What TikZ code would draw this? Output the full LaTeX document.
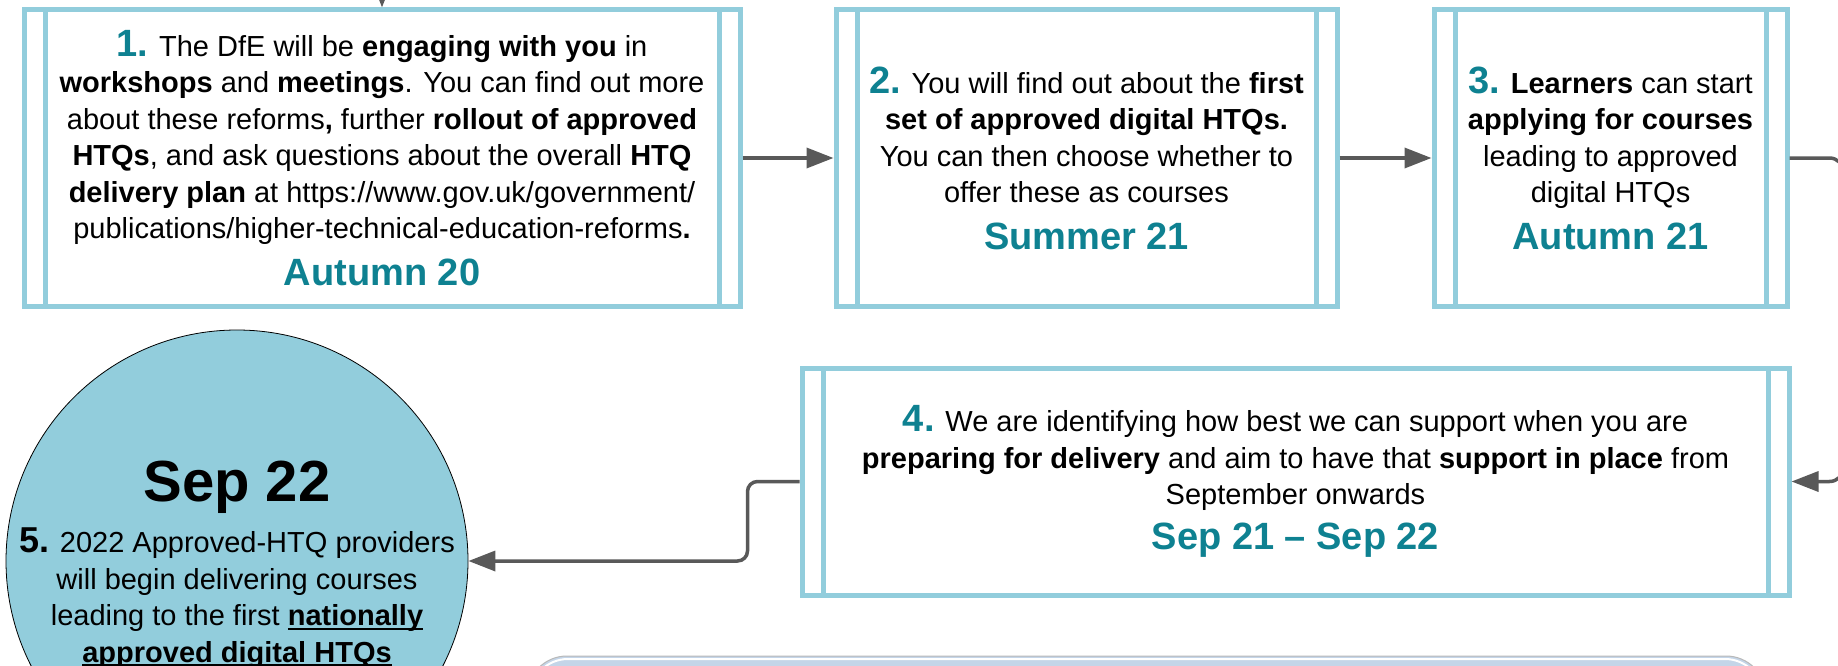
\documentclass[tikz,border=0pt]{standalone}
\usepackage{fontspec}
\setmainfont{Liberation Sans}
\usetikzlibrary{arrows.meta}
\definecolor{boxblue}{RGB}{146,205,220}
\definecolor{tealx}{RGB}{14,129,145}
\definecolor{arrgray}{RGB}{89,89,89}
\definecolor{stripblue}{RGB}{196,213,232}
\definecolor{stripline}{RGB}{185,185,185}
\newcommand\nm[1]{{\fontsize{38}{38}\selectfont\bfseries\color{tealx}#1}}
\newcommand\dt[1]{{\fontsize{38}{38}\selectfont\bfseries\color{tealx}#1}}
\newcommand\myul[1]{\setbox0\hbox{#1}\rlap{\rule[-4pt]{\wd0}{2pt}}\box0}
\begin{document}
\begin{tikzpicture}[x=1pt,y=-1pt,
  proc/.style={draw=boxblue, line width=5pt, rectangle, inner sep=0pt, align=center,
    font=\fontsize{29}{36.5}\selectfont,
    path picture={\draw[boxblue, line width=5pt]
      ([xshift=21pt]path picture bounding box.north west) -- ([xshift=21pt]path picture bounding box.south west)
      ([xshift=-21pt]path picture bounding box.north east) -- ([xshift=-21pt]path picture bounding box.south east);}},
  arr/.style={draw=arrgray, line width=3.5pt, -{Triangle[length=27pt,width=20pt]}},
  circtxt/.style={align=center, inner sep=0pt, font=\fontsize{29}{36.5}\selectfont},
]
\useasboundingbox (0,0) rectangle (1838,666);
\fill[white] (0,0) rectangle (1838,666);

% bottom strip
\draw[draw=stripline, line width=1pt, fill=stripblue, rounded corners=40pt] (527,656) rectangle (1766,820);
\draw[white, line width=2pt, rounded corners=38pt] (530,659) rectangle (1763,820);

% boxes
\node[proc, minimum width=716pt, minimum height=296pt] (b1) at (382,158)
 {\nm{1.} The DfE will be \textbf{engaging with you} in\\
  \textbf{workshops} and \textbf{meetings}. You can find out more\\
  about these reforms\textbf{,} further \textbf{rollout of approved}\\
  \textbf{HTQs}, and ask questions about the overall \textbf{HTQ}\\
  \textbf{delivery plan} at https://www.gov.uk/government/\\
  publications/higher-technical-education-reforms\textbf{.}\\[10pt]
  \dt{Autumn 20}};

\node[proc, minimum width=501pt, minimum height=296pt] (b2) at (1086.5,158)
 {\nm{2.} You will find out about the \textbf{first}\\
  \textbf{set of approved digital HTQs.}\\
  You can then choose whether to\\
  offer these as courses\\[10pt]
  \dt{Summer 21}};

\node[proc, minimum width=353pt, minimum height=296pt] (b3) at (1610.5,158)
 {\nm{3.} \textbf{Learners} can start\\
  \textbf{applying for courses}\\
  leading to approved\\
  digital HTQs\\[10pt]
  \dt{Autumn 21}};

\node[proc, minimum width=987pt, minimum height=227pt] (b4) at (1295.5,481.5)
 {\nm{4.} We are identifying how best we can support when you are\\
  \textbf{preparing for delivery} and aim to have that \textbf{support in place} from\\
  September onwards\\[8pt]
  \dt{Sep 21 – Sep 22}};

% circle
\node[circle, fill=boxblue, draw=black, line width=0.8pt, minimum size=462pt, inner sep=0pt] (c5) at (237,561) {};
\node[circtxt] (c5t) at (237,564.5)
 {{\fontsize{58}{58}\selectfont\bfseries Sep 22}\\[13.5pt]
  {\fontsize{36}{36}\selectfont\bfseries 5.} 2022 Approved-HTQ providers\\
  will begin delivering courses\\
  leading to the first \myul{\textbf{nationally}}\\
  \myul{\textbf{approved digital HTQs}}};

% connectors
\coordinate (top) at (382,-60);
\draw[arr] (top) -- (b1.north);
\draw[arr] (b1) -- (b2);
\draw[arr] (b2) -- (b3);
\draw[arr, rounded corners=14pt] (b3.east) -- ++(54,0) |- (b4.east);
\draw[arr, rounded corners=10pt] (b4.west) -- ++(-52,0) |- (c5.east);
\end{tikzpicture}
\end{document}
